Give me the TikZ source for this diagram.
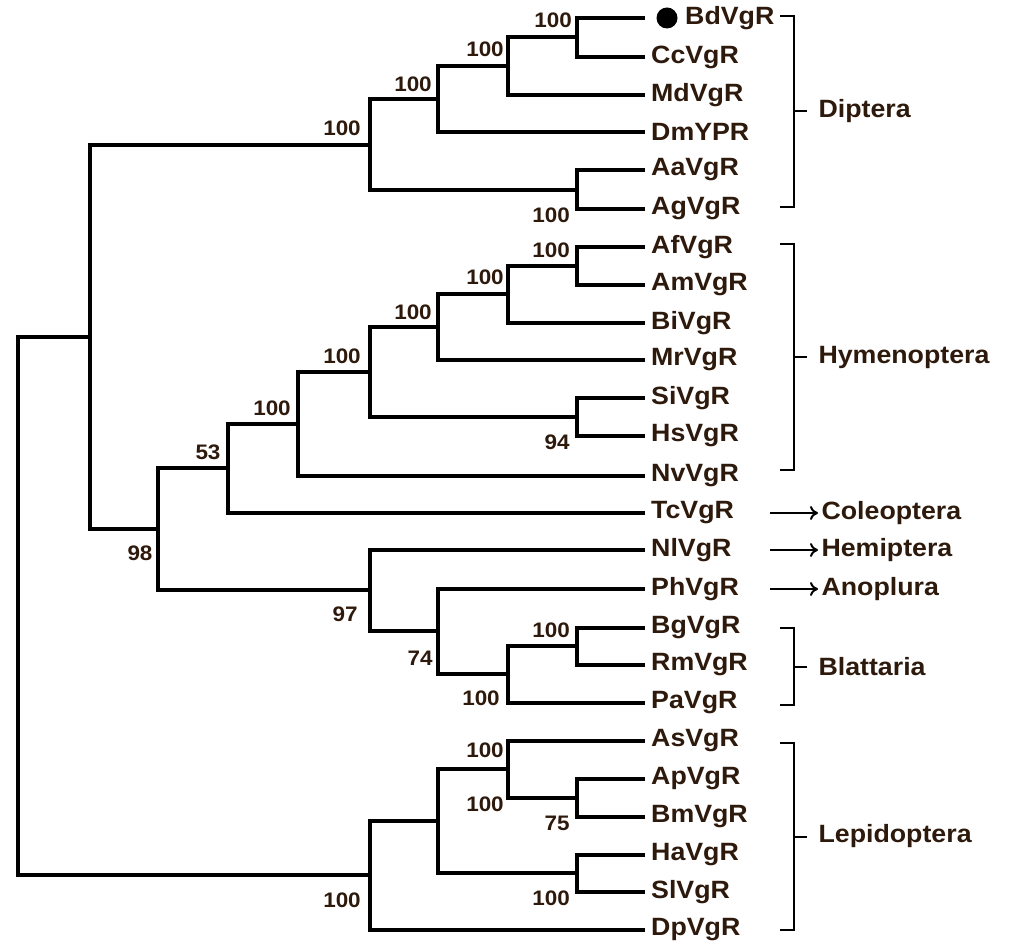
\documentclass[tikz,border=0pt]{standalone}
\usepackage{fontspec}
\setmainfont{Liberation Sans}[FakeStretch=1.07]
\usetikzlibrary{calc,arrows.meta}
\definecolor{txt}{HTML}{2E1A0C}
\begin{document}
\begin{tikzpicture}[x=1pt,y=-1pt,
    br/.style={line width=3.6pt},
    leaf/.style={anchor=west,inner xsep=6pt,inner ysep=0pt,text=txt,font=\fontsize{25}{25}\selectfont\bfseries},
    boot/.style={text=txt,font=\fontsize{21}{21}\selectfont\bfseries},
    order/.style={anchor=west,text=txt,font=\fontsize{25}{25}\selectfont\bfseries},
    brace/.style={line width=2pt}]
    \useasboundingbox (0,0) rectangle (1024,949);
    % leaves
    \foreach \nm/\y/\txt in {bd/18/\hspace{34pt}BdVgR, cc/57/CcVgR, md/95/MdVgR, dm/132/DmYPR,
        aa/170/AaVgR, ag/209/AgVgR, af/247/AfVgR, am/285/AmVgR, bi/323/BiVgR, mr/360/MrVgR,
        si/398/SiVgR, hs/436/HsVgR, nv/476/NvVgR, tc/513/TcVgR, nl/550/NlVgR, ph/589/PhVgR,
        bg/628/BgVgR, rm/665/RmVgR, pa/703/PaVgR, as/741/AsVgR, ap/779/ApVgR, bm/817/BmVgR,
        ha/855/HaVgR, sl/892/SlVgR, dp/930/DpVgR}
        \node[leaf] (\nm) at (645,\y) {\txt};
    \fill ($(bd.west)+(22,0)$) circle (10.5);
    % internal nodes
    \coordinate (n1) at (577,37);
    \coordinate (n2) at (508,66);
    \coordinate (n3) at (438,99);
    \coordinate (n4) at (577,190);
    \coordinate (dip) at (370,145);
    \coordinate (h1) at (577,266);
    \coordinate (h2) at (508,294);
    \coordinate (h3) at (438,327);
    \coordinate (h4) at (577,417);
    \coordinate (h5) at (370,372);
    \coordinate (h6) at (298,424);
    \coordinate (c1) at (228,468);
    \coordinate (b1) at (577,646);
    \coordinate (b2) at (508,674);
    \coordinate (b3) at (438,631);
    \coordinate (b4) at (370,590);
    \coordinate (m1) at (158,529);
    \coordinate (m2) at (90,337);
    \coordinate (l1) at (577,798);
    \coordinate (l2) at (508,769);
    \coordinate (l3) at (577,873);
    \coordinate (l4) at (438,821);
    \coordinate (l5) at (370,875);
    \coordinate (root) at (18,606);
    % branches
    \draw[br] (bd.west) -| (n1) |- (cc.west);
    \draw[br] (n1) -| (n2) |- (md.west);
    \draw[br] (n2) -| (n3) |- (dm.west);
    \draw[br] (aa.west) -| (n4) |- (ag.west);
    \draw[br] (n3) -| (dip) |- (n4);
    \draw[br] (af.west) -| (h1) |- (am.west);
    \draw[br] (h1) -| (h2) |- (bi.west);
    \draw[br] (h2) -| (h3) |- (mr.west);
    \draw[br] (si.west) -| (h4) |- (hs.west);
    \draw[br] (h3) -| (h5) |- (h4);
    \draw[br] (h5) -| (h6) |- (nv.west);
    \draw[br] (h6) -| (c1) |- (tc.west);
    \draw[br] (bg.west) -| (b1) |- (rm.west);
    \draw[br] (b1) -| (b2) |- (pa.west);
    \draw[br] (ph.west) -| (b3) |- (b2);
    \draw[br] (nl.west) -| (b4) |- (b3);
    \draw[br] (c1) -| (m1) |- (b4);
    \draw[br] (dip) -| (m2) |- (m1);
    \draw[br] (ap.west) -| (l1) |- (bm.west);
    \draw[br] (as.west) -| (l2) |- (l1);
    \draw[br] (ha.west) -| (l3) |- (sl.west);
    \draw[br] (l2) -| (l4) |- (l3);
    \draw[br] (l4) -| (l5) |- (dp.west);
    \draw[br] (m2) -| (root) |- (l5);
    % bootstrap values
    \node[boot] at (553,20) {100};
    \node[boot] at (485,49) {100};
    \node[boot] at (413,84) {100};
    \node[boot] at (551,215) {100};
    \node[boot] at (342,128) {100};
    \node[boot] at (551,250) {100};
    \node[boot] at (485,277) {100};
    \node[boot] at (413,312) {100};
    \node[boot] at (557,442) {94};
    \node[boot] at (342,356) {100};
    \node[boot] at (272,408) {100};
    \node[boot] at (208,452) {53};
    \node[boot] at (551,630) {100};
    \node[boot] at (481,698) {100};
    \node[boot] at (420,658) {74};
    \node[boot] at (345,614) {97};
    \node[boot] at (140,553) {98};
    \node[boot] at (485,750) {100};
    \node[boot] at (557,823) {75};
    \node[boot] at (485,804) {100};
    \node[boot] at (551,898) {100};
    \node[boot] at (342,900) {100};
    % groups
    \foreach \nm/\ya/\yb/\txt in {dip/16/207/Diptera, hym/244/470/Hymenoptera,
        bla/628/705/Blattaria, lep/743/930/Lepidoptera}{
        \draw[brace] (780,\ya) -- (794,\ya) -- (794,\yb) -- (780,\yb);
        \draw[brace] (794,{(\ya+\yb)/2}) -- (807,{(\ya+\yb)/2});
        \node[order] (g\nm) at (815,{(\ya+\yb)/2}) {\txt};
    }
    \foreach \nm/\y/\txt in {col/513/Coleoptera, hem/550/Hemiptera, ano/589/Anoplura}{
        \node[order] (g\nm) at (818,\y) {\txt};
        \draw[brace,-{To[length=8pt,width=14pt]}] (770,\y) -- (g\nm.west);
    }
\end{tikzpicture}
\end{document}
